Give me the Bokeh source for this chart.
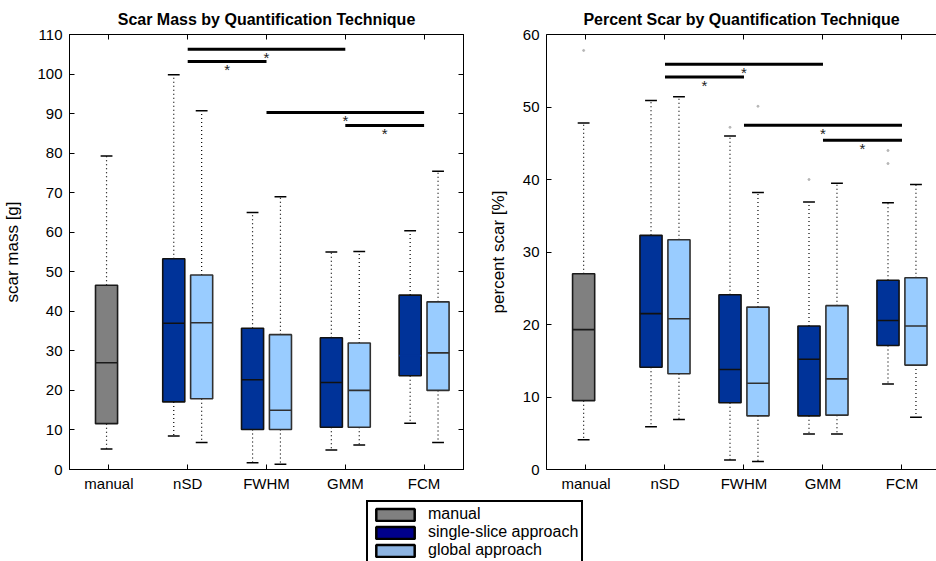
from bokeh.plotting import figure
from bokeh.layouts import column, row
from bokeh.models import ColumnDataSource, LinearAxis, FixedTicker, Range1d, Legend, LegendItem
from bokeh.embed import file_html
from bokeh.resources import INLINE
from bokeh.core.properties import value

FONT = "Liberation Sans"

# ---------------- data ----------------
methods = ["manual", "nSD", "FWHM", "GMM", "FCM"]

box_method = ["manual", "nSD", "nSD", "FWHM", "FWHM", "GMM", "GMM", "FCM", "FCM"]
box_approach = ["manual", "single", "global", "single", "global", "single", "global", "single", "global"]

# scar mass [g]
mass_lower = [5.2, 8.5, 6.8, 1.7, 1.3, 4.9, 6.2, 11.7, 6.8]
mass_q1 = [11.6, 17.1, 17.9, 10.1, 10.1, 10.7, 10.7, 23.7, 20.0]
mass_med = [27.0, 37.0, 37.1, 22.7, 15.0, 22.0, 20.0, 28.8, 29.5]
mass_q3 = [46.6, 53.3, 49.2, 35.7, 34.1, 33.3, 32.0, 44.1, 42.4]
mass_upper = [79.3, 99.8, 90.7, 65.0, 69.0, 55.0, 55.1, 60.4, 75.4]

# percent scar [%]
pct_lower = [4.1, 5.9, 6.9, 1.3, 1.1, 4.9, 4.9, 11.8, 7.2]
pct_q1 = [9.5, 14.1, 13.2, 9.2, 7.4, 7.4, 7.5, 17.1, 14.4]
pct_med = [19.3, 21.5, 20.8, 13.8, 11.9, 15.2, 12.5, 20.55, 19.8]
pct_q3 = [27.0, 32.3, 31.7, 24.1, 22.4, 19.8, 22.6, 26.1, 26.45]
pct_upper = [47.8, 50.9, 51.4, 46.0, 38.2, 36.9, 39.5, 36.8, 39.3]

pct_out_method = ["manual", "FWHM", "FWHM", "GMM", "FCM", "FCM"]
pct_out_approach = ["manual", "single", "global", "single", "single", "single"]
pct_out_value = [57.8, 47.2, 50.1, 40.0, 44.0, 42.2]

# significance bars
mass_sig_from = ["nSD", "nSD", "FWHM", "GMM"]
mass_sig_to = ["GMM", "FWHM", "FCM", "FCM"]
mass_sig_y = [106.3, 103.2, 90.3, 87.0]
pct_sig_from = ["nSD", "nSD", "FWHM", "GMM"]
pct_sig_to = ["GMM", "FWHM", "FCM", "FCM"]
pct_sig_y = [55.9, 54.15, 47.5, 45.4]

legend_labels = ["manual", "single-slice approach", "global approach"]

# ---------------- styling ----------------
OFFSET = {"manual": -0.03, "single": -0.177, "global": 0.177}
FILL = {"manual": "#808080", "single": "#003399", "global": "#99ccff"}
EDGE = {"manual": "#1a1a1a", "single": "#111111", "global": "#303030"}
LEGEND_FILL = {"manual": "#808080", "single": "#00008b", "global": "#8db4e2"}
BOX_W = 0.28
CAP_W = 0.15


def xpos(m, a):
    return methods.index(m) + 1 + OFFSET[a]


def make_panel(title, ylabel, y_end, yticks, lower, q1, med, q3, upper,
               sig_from, sig_to, sig_y, width, border_left, border_right,
               x_end, right_axis, hidden_medians=(), outliers=None):
    p = figure(width=width, height=500, x_range=Range1d(0.5, x_end),
               y_range=Range1d(0, y_end), toolbar_location=None,
               output_backend="svg", min_border_left=border_left,
               min_border_right=border_right, min_border_top=34,
               min_border_bottom=31, title=title)
    p.title.text_font = FONT
    p.title.text_font_size = "16px"
    p.title.text_font_style = "bold"
    p.title.align = "center"
    p.title.text_color = "black"
    p.title.standoff = 13
    p.outline_line_color = "black" if right_axis else None
    p.outline_line_width = 1
    p.grid.visible = False
    p.background_fill_color = "white"

    xs = [xpos(m, a) for m, a in zip(box_method, box_approach)]
    src = ColumnDataSource(dict(
        x=xs,
        left=[x - BOX_W / 2 for x in xs],
        right=[x + BOX_W / 2 for x in xs],
        cl=[x - CAP_W / 2 for x in xs],
        cr=[x + CAP_W / 2 for x in xs],
        lower=lower, q1=q1, med=med, q3=q3, upper=upper,
        fill=[FILL[a] for a in box_approach],
        edge=[EDGE[a] for a in box_approach],
        medc=[FILL[a] if i in hidden_medians else EDGE[a] for i, a in enumerate(box_approach)],
    ))
    # whiskers
    p.segment(x0="x", y0="q3", x1="x", y1="upper", source=src,
              line_color="black", line_width=1.2, line_dash="1 3")
    p.segment(x0="x", y0="q1", x1="x", y1="lower", source=src,
              line_color="black", line_width=1.2, line_dash="1 3")
    p.segment(x0="cl", y0="upper", x1="cr", y1="upper", source=src,
              line_color="black", line_width=1.5)
    p.segment(x0="cl", y0="lower", x1="cr", y1="lower", source=src,
              line_color="black", line_width=1.5)
    # boxes
    p.quad(left="left", right="right", bottom="q1", top="q3", source=src,
           fill_color="fill", line_color="edge", line_width=1.6)
    p.segment(x0="left", y0="med", x1="right", y1="med", source=src,
              line_color="medc", line_width=1.6)

    if outliers is not None:
        om, oa, ov = outliers
        p.scatter(x=[xpos(m, a) for m, a in zip(om, oa)], y=ov, size=2,
                  marker="circle", color="#b5b5b5")

    # significance bars
    x0 = [methods.index(m) + 1 for m in sig_from]
    x1 = [methods.index(m) + 1 for m in sig_to]
    ssrc = ColumnDataSource(dict(x0=x0, x1=x1, y=sig_y,
                                 xm=[(a + b) / 2 for a, b in zip(x0, x1)],
                                 t=["*"] * len(sig_y)))
    p.segment(x0="x0", y0="y", x1="x1", y1="y", source=ssrc,
              line_color="black", line_width=3)
    p.text(x="xm", y="y", text="t", source=ssrc, text_align="center",
           text_baseline="top", text_font=value(FONT), text_font_size="15px",
           text_color="#222222", y_offset=0)

    # axes
    xt = FixedTicker(ticks=[1, 2, 3, 4, 5])
    yt = FixedTicker(ticks=yticks)
    p.xaxis.ticker = xt
    p.xaxis.major_label_overrides = {i + 1: m for i, m in enumerate(methods)}
    p.yaxis.ticker = yt
    p.yaxis.axis_label = ylabel
    for ax in (p.xaxis[0], p.yaxis[0]):
        ax.major_tick_in = 5
        ax.major_tick_out = 0
        ax.minor_tick_line_color = None
        ax.major_label_text_font = FONT
        ax.major_label_text_font_size = "15px"
        ax.major_label_text_color = "black"
        ax.axis_line_color = "black"
        ax.major_tick_line_color = "black"
        ax.axis_label_text_font = FONT
        ax.axis_label_text_font_style = "normal"
        ax.axis_label_text_color = "black"
    p.xaxis.major_label_standoff = 5
    p.yaxis.major_label_standoff = 7
    p.yaxis.axis_label_text_font_size = "17px"
    p.yaxis.axis_label_standoff = 12

    top = LinearAxis(ticker=xt, major_tick_in=5, major_tick_out=0,
                     minor_tick_line_color=None, major_label_text_font_size="0px",
                     major_label_standoff=0, axis_line_color="black")
    p.add_layout(top, "above")
    if right_axis:
        rt = LinearAxis(ticker=yt, major_tick_in=5, major_tick_out=0,
                        minor_tick_line_color=None, major_label_text_font_size="0px",
                        major_label_standoff=0, axis_line_color="black")
        p.add_layout(rt, "right")
    return p


p1 = make_panel("Scar Mass by Quantification Technique", "scar mass [g]", 110,
                list(range(0, 111, 10)), mass_lower, mass_q1, mass_med, mass_q3,
                mass_upper, mass_sig_from, mass_sig_to, mass_sig_y,
                width=470, border_left=68, border_right=7, x_end=5.5,
                right_axis=True, hidden_medians=(7,))
p2 = make_panel("Percent Scar by Quantification Technique", "percent scar [%]", 60,
                list(range(0, 61, 10)), pct_lower, pct_q1, pct_med, pct_q3,
                pct_upper, pct_sig_from, pct_sig_to, pct_sig_y,
                width=466, border_left=76, border_right=0, x_end=5.437,
                right_axis=False,
                outliers=(pct_out_method, pct_out_approach, pct_out_value))

# legend panel
p3 = figure(width=936, height=61, x_range=(0, 1), y_range=(0, 1),
            toolbar_location=None, output_backend="svg", min_border=0,
            x_axis_type=None, y_axis_type=None, outline_line_color=None)
p3.grid.visible = False
items = []
for lab, key in zip(legend_labels, ["manual", "single", "global"]):
    r = p3.rect(x=[float("nan")], y=[float("nan")], width=0.1, height=0.1,
                fill_color=LEGEND_FILL[key], line_color="black", line_width=2.5)
    items.append(LegendItem(label=lab, renderers=[r]))
leg = Legend(items=items, location=(366, -3), border_line_color="black",
             border_line_alpha=1.0, border_line_width=2, padding=3, spacing=0,
             glyph_width=48, glyph_height=15, label_height=15, label_standoff=9,
             label_text_font=FONT, label_text_font_size="16px",
             label_text_color="black", margin=0, background_fill_alpha=1)
p3.add_layout(leg)

layout = column(row(p1, p2, spacing=0), p3, spacing=0)
open("out.html", "w").write(file_html(layout, INLINE))
